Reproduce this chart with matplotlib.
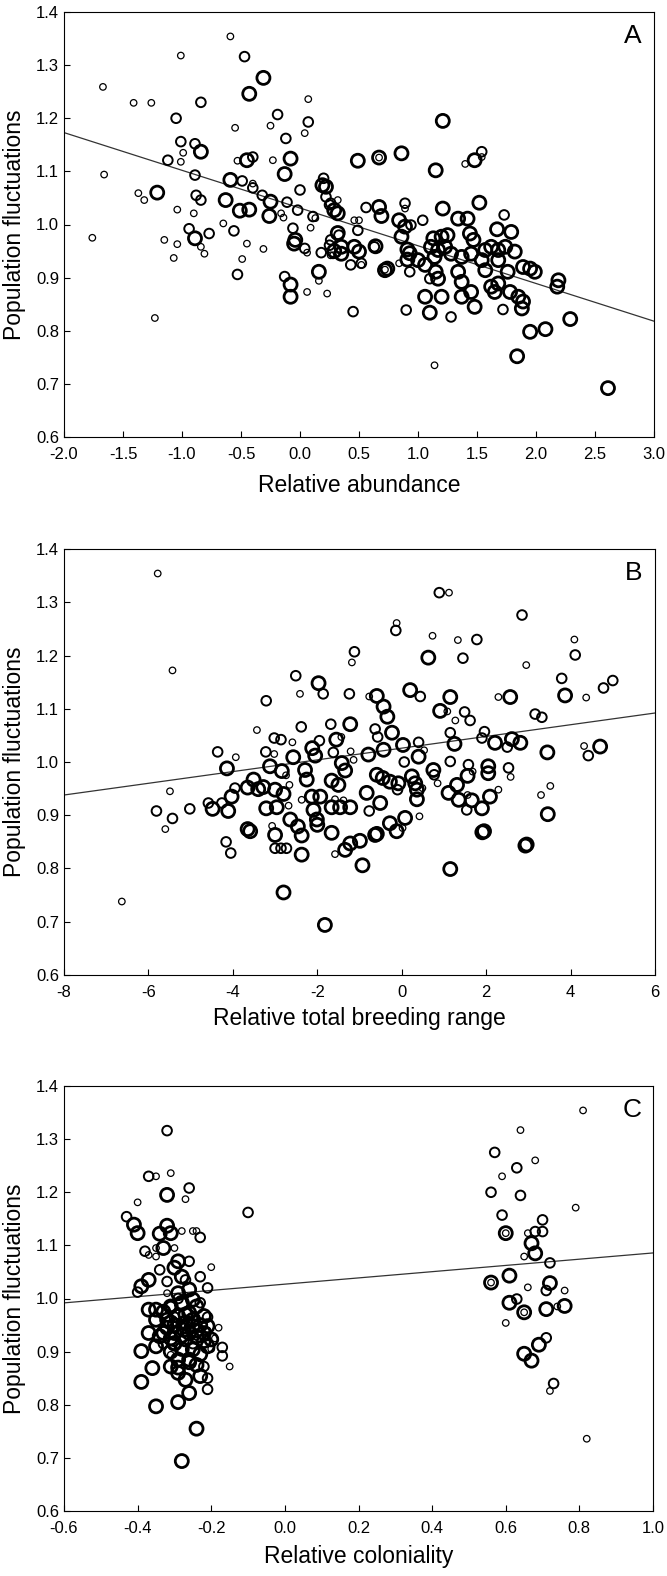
import numpy as np
import matplotlib
matplotlib.use('Agg')
import matplotlib.pyplot as plt

plt.rcParams['font.family'] = ['Liberation Sans', 'DejaVu Sans']
plt.rcParams['axes.unicode_minus'] = False

# ---- panel A: relative abundance vs population fluctuations ----
a_small = [(-1.67,1.259),(-1.41,1.229),(-1.26,1.229),(-1.01,1.318),(-0.59,1.354),(0.07,1.236),
	(0.04,1.172),(-0.25,1.186),(-0.55,1.182),(-0.99,1.135),(-1.01,1.118),(-1.66,1.094),(-0.53,1.120),
	(-0.23,1.121),(-0.40,1.077),(-0.16,1.021),(-0.14,1.013),(-1.37,1.059),(-1.32,1.046),(-1.04,1.028),
	(-0.90,1.021),(-0.65,1.002),(-1.76,0.975),(-1.15,0.971),(-1.04,0.963),(-0.45,0.964),(-0.84,0.958),
	(0.09,0.994),(0.13,1.012),(-1.07,0.937),(-0.81,0.945),(-0.49,0.935),(-0.31,0.954),(-1.23,0.824),
	(0.06,0.947),(0.06,0.873),(0.16,0.894),(0.23,0.870),(0.26,0.942),(1.40,1.114),(0.32,1.046),
	(0.28,0.942),(0.46,1.008),(0.50,1.008),(0.72,0.915),(0.84,0.927),(0.89,1.030),(1.54,1.127),
	(1.14,0.735),(0.52,0.924),(0.67,1.126)]
a_medium = [(-0.47,1.316),(-0.84,1.230),(-1.05,1.200),(0.07,1.193),(-0.19,1.207),(-0.12,1.162),
	(-1.01,1.156),(-0.89,1.152),(-1.12,1.121),(-0.89,1.093),(-0.40,1.127),(-0.49,1.082),(-0.40,1.069),
	(-0.32,1.055),(-0.11,1.042),(0.00,1.065),(-0.02,1.027),(-0.88,1.055),(-0.84,1.046),(-0.56,0.988),
	(-0.77,0.983),(-0.94,0.992),(-0.06,0.993),(0.11,1.015),(0.20,1.087),(0.22,1.052),(0.26,1.040),
	(0.26,0.971),(-0.53,0.906),(-0.13,0.902),(0.04,0.955),(0.18,0.947),(0.25,0.961),(0.25,1.037),
	(0.33,0.980),(0.52,0.927),(0.43,0.924),(0.49,0.989),(0.56,1.032),(0.89,1.040),(0.94,0.999),
	(1.04,1.008),(1.73,1.018),(1.10,0.898),(1.28,0.826),(1.72,0.840),(0.90,0.839),(0.45,0.836),
	(0.93,0.911),(0.63,0.958),(1.54,1.137)]
a_large = [(-0.31,1.276),(-0.43,1.246),(-0.84,1.137),(-0.45,1.121),(-0.08,1.124),(-0.13,1.095),
	(-0.59,1.084),(-0.25,1.043),(-0.26,1.016),(-0.43,1.028),(-0.51,1.026),(-0.63,1.046),(-1.21,1.060),
	(-0.89,0.974),(-0.04,0.971),(0.22,1.071),(0.29,1.027),(0.32,0.984),(-0.08,0.887),(-0.08,0.864),
	(-0.05,0.964),(0.16,0.911),(0.29,0.950),(0.49,1.120),(0.67,1.126),(0.86,1.134),(1.15,1.102),
	(1.48,1.121),(1.21,1.195),(0.19,1.074),(0.32,1.021),(0.35,0.958),(0.35,0.945),(0.46,0.958),
	(0.50,0.949),(0.67,1.033),(0.69,1.016),(0.64,0.959),(0.74,0.917),(0.84,1.008),(0.89,0.996),
	(0.86,0.977),(1.21,1.030),(1.34,1.011),(1.42,1.011),(1.52,1.041),(1.67,0.991),(1.79,0.986),
	(1.44,0.983),(1.47,0.971),(1.25,0.980),(1.20,0.977),(1.13,0.974),(1.11,0.958),(1.23,0.958),
	(0.93,0.946),(0.91,0.934),(1.00,0.933),(1.06,0.924),(1.14,0.939),(1.17,0.952),(1.28,0.945),
	(1.37,0.939),(1.45,0.945),(1.57,0.952),(1.62,0.958),(1.68,0.952),(1.74,0.958),(1.82,0.949),
	(1.54,0.933),(1.68,0.933),(1.57,0.914),(1.76,0.911),(1.89,0.920),(1.95,0.917),(1.99,0.911),
	(1.34,0.911),(1.15,0.911),(1.37,0.892),(1.17,0.898),(1.06,0.864),(1.20,0.864),(1.10,0.834),
	(1.37,0.864),(1.45,0.873),(1.48,0.845),(1.62,0.883),(1.68,0.889),(1.65,0.873),(1.78,0.873),
	(1.85,0.864),(1.89,0.855),(1.88,0.842),(1.95,0.798),(2.08,0.803),(1.84,0.752),(2.29,0.822),
	(2.61,0.692),(2.19,0.895),(2.18,0.883),(0.72,0.914),(0.91,0.953)]
a_fit = (-0.071, 1.031)  # slope, intercept

# ---- panel B: relative total breeding range ----
b_small = [(-5.78,1.354),(-5.43,1.172),(-1.18,1.187),(-2.41,1.128),(-3.43,1.060),(-2.59,1.037),
	(-3.93,1.009),(-5.49,0.945),(-5.60,0.874),(-1.58,0.827),(-6.63,0.738),(-1.43,1.047),(-3.02,1.015),
	(-1.21,1.020),(-1.14,1.004),(-2.74,0.975),(-2.66,0.957),(-2.68,0.918),(-2.37,0.929),(-1.58,0.930),
	(-1.38,0.928),(-3.07,0.880),(1.12,1.318),(-0.12,1.261),(0.73,1.237),(1.33,1.229),(4.09,1.230),
	(2.95,1.182),(4.37,1.121),(2.29,1.122),(1.27,1.078),(1.08,1.095),(-0.77,1.123),(0.53,1.022),
	(4.32,1.030),(0.85,0.960),(0.49,0.951),(0.42,0.898),(0.02,0.876),(1.68,0.982),(2.58,0.972),
	(1.56,0.938),(2.29,0.948),(3.30,0.938),(3.52,0.955)]
b_medium = [(-1.12,1.207),(-2.51,1.162),(-1.24,1.128),(-3.21,1.115),(-2.38,1.066),(-1.68,1.071),
	(-3.02,1.045),(-2.86,1.042),(-1.95,1.040),(-4.36,1.019),(-3.22,1.019),(-1.62,1.018),(-3.95,0.951),
	(-4.58,0.923),(-5.02,0.912),(-5.81,0.908),(-5.43,0.894),(-4.16,0.850),(-4.05,0.829),(-3.00,0.838),
	(-2.86,0.838),(-2.73,0.838),(-4.26,0.923),(-1.86,1.128),(0.89,1.318),(2.85,1.276),(-0.14,1.247),
	(1.78,1.230),(4.11,1.201),(1.45,1.195),(3.79,1.157),(5.00,1.153),(4.78,1.139),(0.44,1.123),
	(1.49,1.094),(1.62,1.078),(3.16,1.090),(3.32,1.084),(-0.63,1.062),(0.40,1.037),(1.15,1.055),
	(1.96,1.057),(1.90,1.045),(4.42,1.012),(0.06,1.000),(1.15,1.001),(1.58,0.995),(2.53,0.989),
	(1.54,0.910),(-0.57,1.047),(2.50,1.028),(0.77,0.976),(-0.10,0.948),(-0.77,0.908)]
b_large = [(-1.97,1.148),(-1.22,1.071),(-1.55,1.042),(-2.57,1.009),(-2.12,1.026),(-2.05,1.012),
	(-1.42,0.998),(-1.34,0.984),(-4.14,0.988),(-3.12,0.992),(-2.84,0.983),(-2.29,0.985),(-2.25,0.967),
	(-1.66,0.965),(-1.50,0.957),(-3.51,0.967),(-3.40,0.949),(-3.28,0.953),(-3.65,0.952),(-4.03,0.935),
	(-3.00,0.948),(-2.80,0.940),(-4.48,0.912),(-4.11,0.908),(-3.21,0.913),(-2.96,0.915),(-2.13,0.935),
	(-1.93,0.935),(-2.09,0.910),(-1.66,0.915),(-1.46,0.915),(-1.22,0.915),(-3.65,0.874),(-3.59,0.870),
	(-3.00,0.863),(-2.64,0.892),(-2.46,0.879),(-2.37,0.862),(-2.01,0.892),(-2.00,0.882),(-1.66,0.867),
	(-1.22,0.847),(-1.34,0.835),(-2.37,0.826),(-2.80,0.755),(-1.82,0.694),(-0.93,0.806),(1.15,0.799),
	(-0.99,0.852),(-0.63,0.863),(0.63,1.196),(3.87,1.125),(2.57,1.122),(1.15,1.122),(0.91,1.096),
	(0.20,1.135),(-0.59,1.124),(-0.43,1.104),(-0.34,1.085),(-0.23,1.055),(0.03,1.032),(-0.43,1.023),
	(-0.79,1.014),(0.40,1.010),(1.25,1.034),(2.21,1.036),(2.61,1.043),(2.81,1.036),(3.45,1.018),
	(4.70,1.029),(0.75,0.985),(-0.59,0.976),(-0.45,0.970),(-0.28,0.963),(-0.08,0.960),(0.24,0.973),
	(0.32,0.960),(0.36,0.948),(0.36,0.930),(-0.83,0.942),(-0.51,0.923),(-0.28,0.885),(-0.12,0.870),
	(0.08,0.895),(-0.59,0.865),(1.56,0.974),(2.05,0.992),(2.05,0.979),(1.31,0.957),(1.11,0.942),
	(1.35,0.929),(1.66,0.928),(1.90,0.913),(2.09,0.935),(3.46,0.902),(1.95,0.870),(2.96,0.845),
	(1.91,0.868),(2.93,0.843)]
b_fit = (0.011, 1.026)

# ---- panel C: relative coloniality ----
c_small = [(-0.35,1.230),(-0.31,1.236),(-0.27,1.187),(-0.40,1.181),(-0.28,1.127),(-0.25,1.127),
	(-0.24,1.127),(-0.35,1.095),(-0.37,1.082),(-0.30,1.095),(-0.35,1.079),(-0.20,1.059),(-0.32,1.010),
	(-0.18,0.945),(-0.15,0.872),(-0.31,0.894),(-0.20,0.905),(-0.19,0.925),(0.81,1.354),(0.64,1.317),
	(0.68,1.260),(0.59,1.230),(0.79,1.171),(0.60,1.123),(0.66,1.123),(0.65,1.079),(0.56,1.030),
	(0.66,1.021),(0.76,1.015),(0.65,0.974),(0.74,0.985),(0.60,0.954),(0.72,0.826),(0.82,0.736),
	(-0.24,0.965),(-0.27,1.005),(-0.21,0.940)]
c_medium = [(-0.32,1.316),(-0.37,1.230),(-0.26,1.208),(-0.10,1.162),(-0.43,1.154),(-0.23,1.115),
	(-0.38,1.089),(-0.26,1.070),(-0.34,1.054),(-0.40,1.012),(-0.32,1.032),(-0.27,1.035),(-0.23,1.041),
	(-0.21,1.020),(-0.23,0.992),(-0.17,0.908),(-0.17,0.892),(-0.21,0.850),(-0.21,0.829),(-0.22,0.872),
	(-0.26,0.945),(-0.30,0.965),(-0.33,0.915),(-0.21,0.965),(0.57,1.275),(0.63,1.246),(0.56,1.200),
	(0.64,1.194),(0.59,1.157),(0.70,1.148),(0.68,1.126),(0.70,1.126),(0.72,1.067),(0.71,1.015),
	(0.63,0.999),(0.71,0.926),(0.73,0.840),(-0.29,1.000),(-0.25,0.915),(-0.31,0.985)]
c_large = [(-0.32,1.195),(-0.41,1.139),(-0.40,1.123),(-0.32,1.137),(-0.34,1.122),(-0.31,1.123),
	(-0.33,1.095),(-0.29,1.070),(-0.30,1.058),(-0.37,1.035),(-0.39,1.023),(-0.28,1.041),(-0.26,1.017),
	(-0.29,1.010),(-0.37,0.979),(-0.35,0.979),(-0.31,0.985),(-0.28,0.992),(-0.25,0.998),(-0.26,0.973),
	(-0.29,0.967),(-0.32,0.960),(-0.22,0.967),(-0.21,0.948),(-0.37,0.935),(-0.34,0.929),(-0.30,0.935),
	(-0.275,0.941),(-0.25,0.948),(-0.27,0.923),(-0.24,0.929),(-0.20,0.923),(-0.35,0.910),(-0.30,0.916),
	(-0.29,0.885),(-0.25,0.904),(-0.26,0.885),(-0.21,0.910),(-0.39,0.901),(-0.36,0.869),(-0.39,0.843),
	(-0.31,0.872),(-0.29,0.860),(-0.27,0.847),(-0.26,0.822),(-0.23,0.854),(-0.35,0.797),(-0.29,0.805),
	(-0.24,0.755),(-0.28,0.694),(-0.30,0.950),(-0.27,0.955),(-0.24,0.940),(-0.32,0.945),(-0.28,0.930),
	(-0.25,0.960),(-0.30,0.915),(-0.23,0.895),(-0.26,0.880),(-0.31,0.900),(-0.28,0.990),(-0.33,0.975),
	(-0.24,0.985),(-0.22,0.935),(-0.29,0.870),(-0.31,0.955),(-0.27,0.970),(-0.23,0.950),(-0.33,0.935),
	(-0.28,0.905),(-0.24,0.875),(-0.35,0.960),(-0.26,0.935),(-0.31,0.925),(-0.22,0.920),
	(0.60,1.123),(0.67,1.104),(0.68,1.085),(0.61,1.043),
	(0.56,1.030),(0.72,1.029),(0.61,0.992),(0.65,0.974),(0.71,0.980),(0.76,0.986),(0.69,0.913),
	(0.65,0.896),(0.67,0.883)]
c_fit = (0.05875, 1.027)

panels = [
	('A', 'Relative abundance', (a_small, a_medium, a_large), a_fit, (-2.0, 3.0), np.arange(-2.0, 3.01, 0.5), '%.1f'),
	('B', 'Relative total breeding range', (b_small, b_medium, b_large), b_fit, (-8, 6), np.arange(-8, 7, 2), '%d'),
	('C', 'Relative coloniality', (c_small, c_medium, c_large), c_fit, (-0.6, 1.0), np.arange(-0.6, 1.01, 0.2), '%.1f'),
]

# marker style per size class: (s, linewidth)
styles = [(22, 0.9), (48, 1.4), (88, 2.0)]

W, H = 667, 1576
boxes = [(64, 12, 654, 437), (64, 549, 655, 975), (64, 1086, 653, 1511)]
xlabel_y = [-0.087, -0.076, -0.081]

fig = plt.figure(figsize=(W/100, H/100), dpi=100)
for (letter, xlab, groups, fit, xlim, xt, fmt), (l, t, r, b), ly in zip(panels, boxes, xlabel_y):
	ax = fig.add_axes([l/W, 1-b/H, (r-l)/W, (b-t)/H])
	for pts, (s, lw) in zip(groups, styles):
		pts = np.array(pts)
		ax.scatter(pts[:,0], pts[:,1], s=s, facecolors='none', edgecolors='black', linewidths=lw, zorder=3)
	xx = np.array(xlim, dtype=float)
	ax.plot(xx, fit[0]*xx + fit[1], color='#333333', lw=0.9, zorder=2)
	ax.set_xlim(xlim)
	ax.set_ylim(0.6, 1.4)
	ax.set_xticks(xt)
	ax.set_xticklabels([fmt % v for v in xt])
	yt = np.arange(0.6, 1.41, 0.1)
	ax.set_yticks(yt)
	ax.set_yticklabels(['%.1f' % v for v in yt])
	ax.tick_params(direction='in', length=4, width=0.8, labelsize=12)
	ax.tick_params(axis='x', pad=7)
	ax.tick_params(axis='y', pad=3.5)
	for sp in ax.spines.values():
		sp.set_linewidth(0.8)
	ax.set_xlabel(xlab, fontsize=16.5)
	ax.set_ylabel('Population fluctuations', fontsize=16.5)
	ax.xaxis.set_label_coords(0.5, ly)
	ax.yaxis.set_label_coords(-0.065, 0.5)
	ax.text(0.964, 0.944, letter, transform=ax.transAxes, fontsize=19, ha='center', va='center')

fig.savefig('out.png', dpi=100)
